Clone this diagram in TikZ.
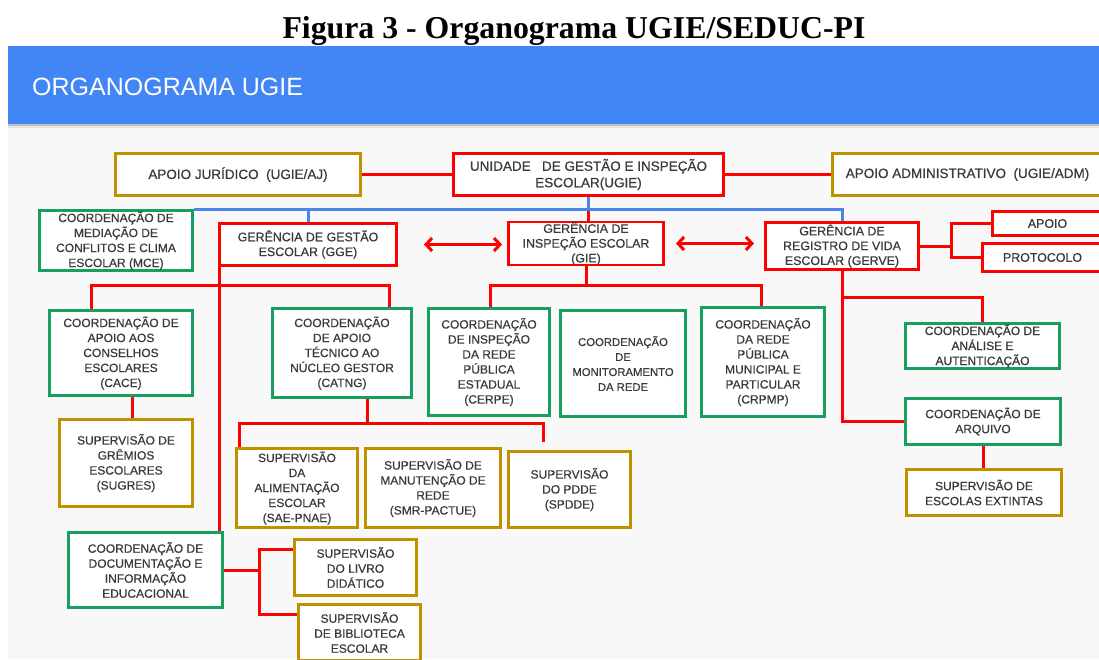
\documentclass[tikz,border=0pt]{standalone}
\usepackage{fontspec}
\setmainfont{Liberation Sans}
\newfontfamily\titlefont{Liberation Serif}
\newfontfamily\boxfont[FakeBold=0.5]{Liberation Sans}
\usetikzlibrary{arrows.meta}
\pgfdeclarelayer{back}
\pgfdeclarelayer{mid}
\pgfsetlayers{back,mid,main}
\definecolor{hdr}{HTML}{4285F4}
\definecolor{bline}{HTML}{4A86E8}
\definecolor{gold}{HTML}{BF9000}
\definecolor{grn}{HTML}{17A05D}
\definecolor{rd}{HTML}{FF0000}
\definecolor{txt}{HTML}{3A3A3A}
\definecolor{bg}{HTML}{F8F8F8}
\tikzset{
 box/.style={draw, line width=2.8pt, fill=white, inner sep=0pt, align=center, text=txt, font=\boxfont\fontsize{12}{15}\selectfont},
 gbox/.style={box, draw=grn},
 rbox/.style={box, draw=rd},
 ybox/.style={box, draw=gold},
 fbig/.style={font=\boxfont\fontsize{13.5}{16.5}\selectfont},
 fmed/.style={font=\boxfont\fontsize{12.4}{14.8}\selectfont},
 fsml/.style={font=\boxfont\fontsize{11.3}{15}\selectfont},
 rl/.style={draw=rd, line width=3pt},
 bl/.style={draw=bline, line width=3pt},
 ar/.style={rl, {Straight Barb[length=6pt,width=13pt]}-{Straight Barb[length=6pt,width=13pt]}},
}
\newcommand\bx[7]{\node[#1, minimum width={#5-#3-2.8}, minimum height={#6-#4-2.8}] (#2) at ({(#3+#5)/2},{(#4+#6)/2}) {#7};}
\begin{document}
\begin{tikzpicture}[x=1pt,y=-1pt]
\useasboundingbox (0,0) rectangle (1099,659);
% background and header
\begin{pgfonlayer}{back}
\fill[bg] (8,124) rectangle (1099,659);
\fill[hdr] (8,46) rectangle (1099,124);
\fill[black!25] (8,124) rectangle (1099,126);
\fill[black!10] (8,126) rectangle (1099,128);
\end{pgfonlayer}
\node[anchor=base, font=\titlefont\bfseries\fontsize{31.8}{36}\selectfont, inner sep=0pt] (title) at (574,38) {Figura 3 - Organograma UGIE/SEDUC-PI};
\node[anchor=base west, text=white, font=\fontsize{25}{30}\selectfont, inner sep=0pt] (head) at (32,95) {ORGANOGRAMA UGIE};
% boxes
\bx{ybox,fbig}{aj}{114}{152}{362}{197}{APOIO JURÍDICO\ \ (UGIE/AJ)}
\bx{rbox,fbig}{ugie}{452}{152}{725}{197}{UNIDADE\ \ \ DE GESTÃO E INSPEÇÃO\\ESCOLAR(UGIE)}
\bx{ybox,fbig}{adm}{831}{152}{1104}{197}{APOIO ADMINISTRATIVO\ \ (UGIE/ADM)}
\bx{gbox}{mce}{38}{209}{194}{272}{COORDENAÇÃO DE\\MEDIAÇÃO DE\\CONFLITOS E CLIMA\\ESCOLAR (MCE)}
\bx{rbox,fmed}{gge}{218}{222}{398}{267}{GERÊNCIA DE GESTÃO\\ESCOLAR (GGE)}
\bx{rbox,fmed}{gie}{507}{221}{665}{266}{GERÊNCIA DE\\INSPEÇÃO ESCOLAR\\(GIE)}
\bx{rbox,fmed}{gerve}{764}{221}{920}{271}{GERÊNCIA DE\\REGISTRO DE VIDA\\ESCOLAR (GERVE)}
\bx{rbox,fmed}{apoio}{991}{210}{1104}{237}{APOIO}
\bx{rbox,fmed}{protocolo}{981}{242}{1104}{273}{PROTOCOLO}
\bx{gbox}{cace}{48}{309}{194}{397}{COORDENAÇÃO DE\\APOIO AOS\\CONSELHOS\\ESCOLARES\\(CACE)}
\bx{gbox}{catng}{271}{307}{413}{399}{COORDENAÇÃO\\DE APOIO\\TÉCNICO AO\\NÚCLEO GESTOR\\(CATNG)}
\bx{gbox}{cerpe}{427}{307}{551}{417}{COORDENAÇÃO\\DE INSPEÇÃO\\DA REDE\\PÚBLICA\\ESTADUAL\\(CERPE)}
\bx{gbox,fsml}{mon}{559}{309}{687}{418}{COORDENAÇÃO\\DE\\MONITORAMENTO\\DA REDE}
\bx{gbox}{crpmp}{700}{306}{826}{418}{COORDENAÇÃO\\DA REDE\\PÚBLICA\\MUNICIPAL E\\PARTICULAR\\(CRPMP)}
\bx{gbox}{caa}{904}{322}{1061}{370}{COORDENAÇÃO DE\\ANÁLISE E\\AUTENTICAÇÃO}
\bx{gbox}{carq}{904}{397}{1062}{446}{COORDENAÇÃO DE\\ARQUIVO}
\bx{ybox}{see}{905}{468}{1063}{517}{SUPERVISÃO DE\\ESCOLAS EXTINTAS}
\bx{ybox}{sugres}{58}{418}{194}{508}{SUPERVISÃO DE\\GRÊMIOS\\ESCOLARES\\(SUGRES)}
\bx{ybox}{sae}{235}{447}{359}{529}{SUPERVISÃO\\DA\\ALIMENTAÇÃO\\ESCOLAR\\(SAE-PNAE)}
\bx{ybox}{smr}{364}{447}{502}{529}{SUPERVISÃO DE\\MANUTENÇÃO DE\\REDE\\(SMR-PACTUE)}
\bx{ybox}{spdde}{507}{450}{632}{529}{SUPERVISÃO\\DO PDDE\\(SPDDE)}
\bx{gbox}{cdie}{67}{531}{224}{609}{COORDENAÇÃO DE\\DOCUMENTAÇÃO E\\INFORMAÇÃO\\EDUCACIONAL}
\bx{ybox}{sld}{293}{538}{418}{597}{SUPERVISÃO\\DO LIVRO\\DIDÁTICO}
\bx{ybox}{sbe}{297}{603}{422}{662}{SUPERVISÃO\\DE BIBLIOTECA\\ESCOLAR}
% junction coordinates
\coordinate (bR) at (842,209);
\coordinate (gj) at (951,246);
\coordinate (gl) at (91,285);
\coordinate (gr) at (389,285);
\coordinate (cj) at (367,423);
\coordinate (cl) at (239,423);
\coordinate (cr) at (543,423);
\coordinate (il) at (490,285);
\coordinate (ir) at (761,285);
\coordinate (vj) at (842,297);
\coordinate (dj) at (259,570);
% connectors (behind boxes)
\begin{pgfonlayer}{mid}
\draw[rl] (aj) -- (ugie);
\draw[rl] (ugie) -- (adm);
\draw[rl] (ugie.south) -- (ugie.south |- gie.north);
\draw[bl] (mce.north east) -- (bR) -- (gerve.north);
\draw[bl] (gge.north) -- (gge.north |- bR);
\draw[bl] (ugie.south) -- (ugie.south |- bR);
\draw[rl] ([xshift=1pt]gge.south west) -- ([xshift=1pt]gge.south west |- cdie.north);
\draw[rl] (cace.north -| gl) -- (gl) -- (gr) -- (gr |- catng.north);
\draw[rl] ([xshift=6pt]sugres.north) -- ([xshift=6pt]sugres.north |- cace.south);
\draw[rl] (catng.south -| cj) -- (cj);
\draw[rl] (sae.north -| cl) -- (cl) -- (cr) -- ([yshift=8pt]cr |- spdde.north);
\draw[rl] (gie.south) -- (gie.south |- il);
\draw[rl] (cerpe.north -| il) -- (il) -- (ir) -- (ir |- crpmp.north);
\draw[rl] (gerve.south) |- (carq.west);
\draw[rl] (vj) -| (caa.north);
\draw[rl] (carq.south) -- (carq.south |- see.north);
\draw[rl] (cdie.east) -- (dj);
\draw[rl] ([yshift=18.5pt]sld.west) -| (dj) |- ([yshift=18.5pt]sbe.west);
\draw[rl] (gerve.east) -- (gj);
\draw[rl] (apoio.west) -| (gj) |- (protocolo.west);
\end{pgfonlayer}
\draw[ar] ([xshift=26pt]gge.east) -- ([xshift=-5pt]gie.west |- gge.east);
\draw[ar] ([xshift=11pt]gie.east) -- ([xshift=-10pt]gerve.west |- gie.east);
\end{tikzpicture}
\end{document}
